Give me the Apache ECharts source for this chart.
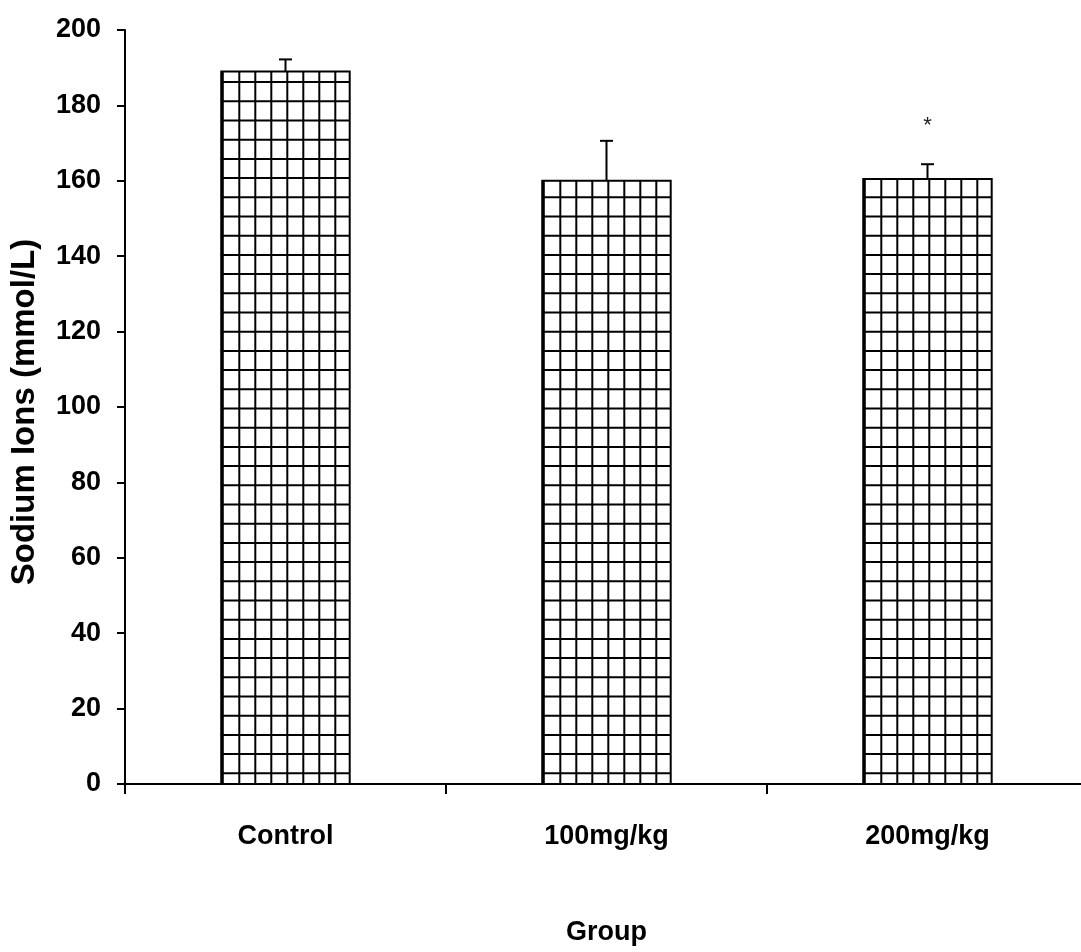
<!DOCTYPE html>
<html>
<head>
<meta charset="utf-8">
<script src="https://cdn.jsdelivr.net/npm/echarts@6/dist/echarts.min.js"></script>
<style>html,body{margin:0;padding:0;background:#fff}#chart{width:1081px;height:952px}</style>
</head>
<body>
<div id="chart"></div>
<script>
var categories = ['Control', '100mg/kg', '200mg/kg'];
var means = [189, 160, 160.5];
var sems = [3.2, 10.6, 3.9];
var sigLabels = ['', '', '*'];
var sigValues = [0, 0, 174.5];
var yTicks = { min: 0, max: 200, interval: 20 };

var FONT = "Arial, 'Liberation Sans', sans-serif";
var chart = echarts.init(document.getElementById('chart'), null, { renderer: 'canvas' });

function renderBar(params, api) {
  var idx = api.value(0);
  var val = api.value(1);
  var err = api.value(2);
  var base = api.coord([idx, 0]);
  var top = api.coord([idx, val]);
  var errTop = api.coord([idx, val + err]);
  var w = api.size([1, 0])[0] * 0.4;
  var left = base[0] - w / 2, right = base[0] + w / 2;
  var children = [];
  children.push({ type: 'rect', shape: { x: left, y: top[1], width: w, height: base[1] - top[1] },
    style: { fill: '#fff', stroke: 'none' } });
  for (var k = 1; k < 8; k++) {
    var x = left + 2 + 16 * k;
    if (x >= right - 2) break;
    children.push({ type: 'line', shape: { x1: x, y1: top[1], x2: x, y2: base[1] },
      style: { stroke: '#000', lineWidth: 2 } });
  }
  for (var j = 0; ; j++) {
    var y = base[1] - 10.7 - 19.2 * j;
    if (y <= top[1] + 2) break;
    children.push({ type: 'line', shape: { x1: left, y1: y, x2: right, y2: y },
      style: { stroke: '#000', lineWidth: 2 } });
  }
  children.push({ type: 'rect', shape: { x: left, y: top[1], width: w, height: base[1] - top[1] },
    style: { fill: 'none', stroke: '#000', lineWidth: 2 } });
  children.push({ type: 'line', shape: { x1: left + 1, y1: top[1], x2: left + 1, y2: base[1] },
    style: { stroke: '#000', lineWidth: 3 } });
  children.push({ type: 'line', shape: { x1: base[0], y1: top[1], x2: base[0], y2: errTop[1] },
    style: { stroke: '#000', lineWidth: 2 } });
  children.push({ type: 'line', shape: { x1: base[0] - 6.5, y1: errTop[1], x2: base[0] + 6.5, y2: errTop[1] },
    style: { stroke: '#000', lineWidth: 2 } });
  if (sigLabels[idx]) {
    var sp = api.coord([idx, sigValues[idx]]);
    children.push({ type: 'text', x: sp[0], y: sp[1],
      style: { text: sigLabels[idx], fill: '#222', font: '22px ' + FONT, align: 'center', verticalAlign: 'middle' } });
  }
  return { type: 'group', children: children };
}

chart.setOption({
  animation: false,
  backgroundColor: '#fff',
  grid: { left: 125, top: 30, width: 963, bottom: 168, containLabel: false, outerBoundsMode: 'none' },
  xAxis: {
    type: 'category',
    data: categories,
    name: 'Group',
    nameLocation: 'middle',
    nameGap: 135,
    nameTextStyle: { fontFamily: FONT, fontWeight: 'bold', fontSize: 27, color: '#000' },
    axisLine: { lineStyle: { color: '#000', width: 2 } },
    axisTick: { show: true, length: 10, lineStyle: { color: '#000', width: 2 } },
    axisLabel: { margin: 39, fontFamily: FONT, fontWeight: 'bold', fontSize: 27, color: '#000' },
    splitLine: { show: false }
  },
  yAxis: {
    type: 'value',
    min: yTicks.min, max: yTicks.max, interval: yTicks.interval,
    name: 'Sodium Ions (mmol/L)',
    nameLocation: 'middle',
    nameGap: 84,
    nameTextStyle: { fontFamily: FONT, fontWeight: 'bold', fontSize: 33, color: '#000', padding: [0, 10, 0, 0] },
    axisLine: { show: true, lineStyle: { color: '#000', width: 2 } },
    axisTick: { show: true, length: 8, lineStyle: { color: '#000', width: 2 } },
    axisLabel: { margin: 24, fontFamily: FONT, fontWeight: 'bold', fontSize: 27, color: '#000' },
    splitLine: { show: false }
  },
  series: [{
    type: 'custom',
    renderItem: renderBar,
    encode: { x: 0, y: 1 },
    data: categories.map(function (c, i) { return [i, means[i], sems[i]]; })
  }]
});
</script>
</body>
</html>
